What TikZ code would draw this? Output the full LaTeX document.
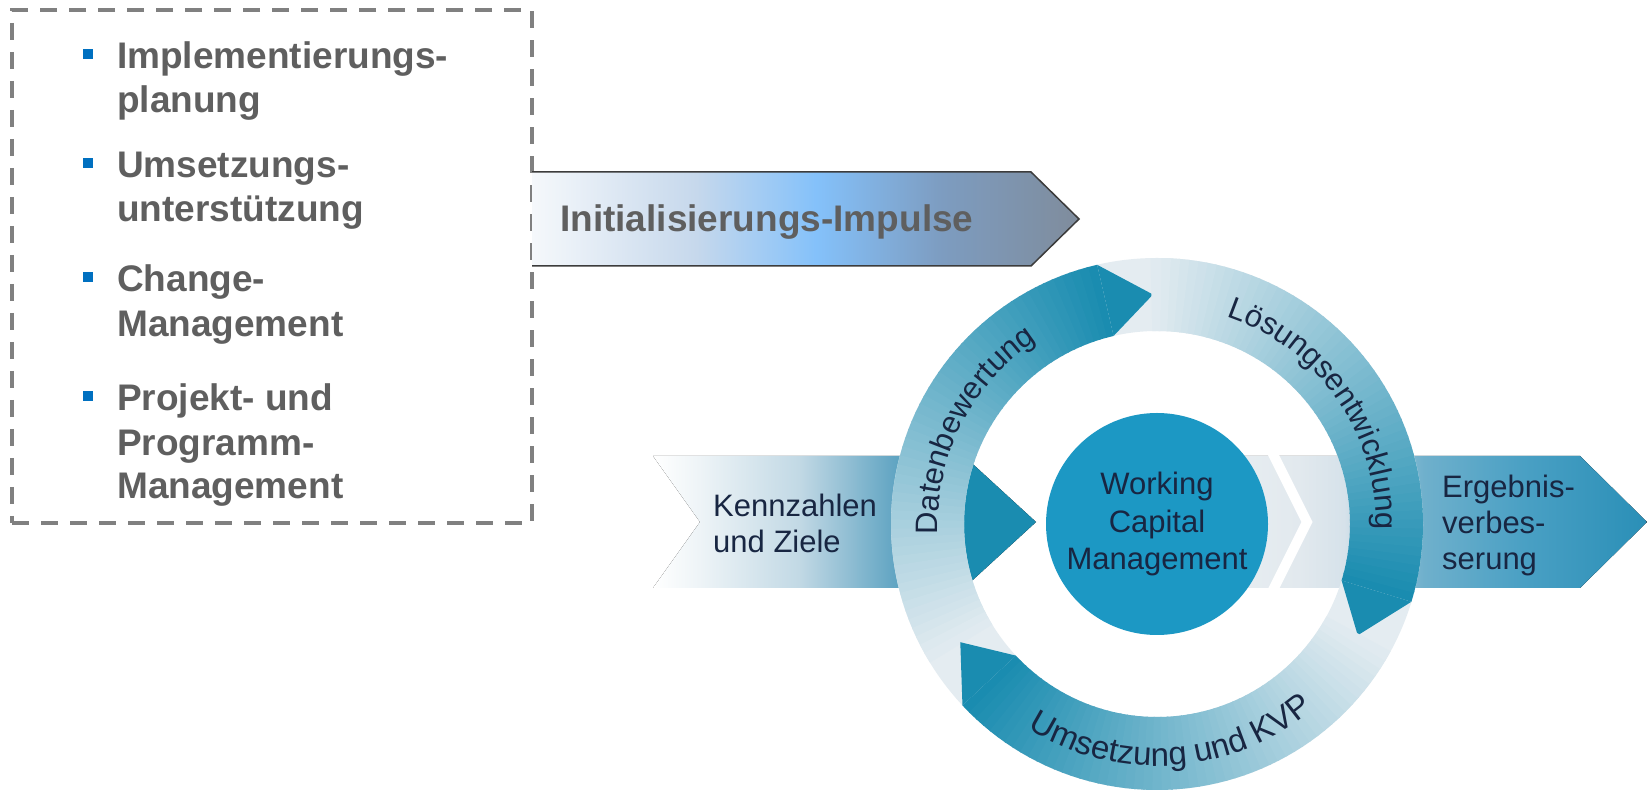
\documentclass[tikz,border=0pt]{standalone}
\usepackage{fontspec}
\setmainfont{Liberation Sans}
\usetikzlibrary{decorations.text}
\definecolor{boxgray}{RGB}{128,128,128}
\definecolor{bultext}{RGB}{95,95,95}
\definecolor{bulblue}{RGB}{0,112,192}
\definecolor{tealdk}{RGB}{26,140,176}
\definecolor{pale}{RGB}{228,236,241}
\definecolor{circ}{RGB}{28,152,196}
\definecolor{navy}{RGB}{24,38,66}
\definecolor{outl}{RGB}{60,60,60}
\definecolor{iA}{RGB}{245,248,251}
\definecolor{iB}{RGB}{198,216,236}
\definecolor{iC}{RGB}{132,193,250}
\definecolor{iD}{RGB}{125,156,192}
\definecolor{iE}{RGB}{127,140,156}
\definecolor{kA}{RGB}{238,244,247}
\definecolor{kB}{RGB}{194,217,229}
\definecolor{kC}{RGB}{102,167,196}
\definecolor{eA}{RGB}{238,243,246}
\definecolor{eB}{RGB}{226,233,238}
\definecolor{eC}{RGB}{214,226,234}
\definecolor{eD}{RGB}{111,176,204}
\definecolor{eE}{RGB}{74,160,196}
\definecolor{eF}{RGB}{42,143,183}
\pgfdeclarehorizontalshading{initshade}{100bp}{color(0bp)=(iA); color(25bp)=(iA); color(40bp)=(iB); color(51bp)=(iC); color(62.5bp)=(iD); color(75bp)=(iE); color(100bp)=(iE)}
\pgfdeclarehorizontalshading{kshade}{100bp}{color(0bp)=(white); color(25bp)=(white); color(31bp)=(kA); color(44bp)=(kB); color(56bp)=(kC); color(65.5bp)=(tealdk); color(100bp)=(tealdk)}
\pgfdeclarehorizontalshading{eshade}{100bp}{color(0bp)=(eA); color(25bp)=(eA); color(40bp)=(eB); color(44.5bp)=(eC); color(52.5bp)=(eD); color(62.5bp)=(eE); color(75bp)=(eF); color(100bp)=(eF)}
\newcommand\ringfnt{\fontsize{31}{36}\selectfont}
\newcommand\ringfntb{\fontsize{33}{38}\selectfont}
\tikzset{
  bultxt/.style={anchor=base west, inner sep=0, text=bultext, font=\bfseries\fontsize{37}{44}\selectfont},
  bulsq/.style={fill=bulblue, minimum width=10.5, minimum height=10.5, inner sep=0},
  lbl/.style={anchor=base west, inner sep=0, text=navy, font=\fontsize{31}{37}\selectfont},
  ringtxt/.style={decorate, decoration={text along path, text align=center, text color=navy, text={#1}}}
}
\begin{document}
\begin{tikzpicture}[x=1pt,y=1pt]
\useasboundingbox (0,0) rectangle (1647,792);
\fill[white] (0,0) rectangle (1647,792);
% dashed box
\node[draw=boxgray, line width=3.5, dash pattern=on 17 off 12, minimum width=520, minimum height=513, inner sep=0] (box) at (272,525.5) {};
% bullets
\node[bulsq] (s1) at (88,738) {};
\node[bulsq] (s2) at (88,629) {};
\node[bulsq] (s3) at (88,515) {};
\node[bulsq] (s4) at (88,396) {};
\node[bultxt] (t1a) at (117,723) {Implementierungs-};
\node[bultxt] (t1b) at (117,679) {planung};
\node[bultxt] (t2a) at (117,614) {Umsetzungs-};
\node[bultxt] (t2b) at (117,570) {unterstützung};
\node[bultxt] (t3a) at (117,500) {Change-};
\node[bultxt] (t3b) at (117,455) {Management};
\node[bultxt] (t4a) at (117,381) {Projekt- und};
\node[bultxt] (t4b) at (117,336) {Programm-};
\node[bultxt] (t4c) at (117,293) {Management};
% Initialisierungs arrow
\fill[shading=initshade] (532,620) -- (1031,620) -- (1079,573) -- (1031,526) -- (532,526) -- cycle;
\draw[outl, line width=1.5, line join=miter] (532,620) -- (1031,620) -- (1079,573) -- (1031,526) -- (532,526);
\node[bultxt] (init) at (560,560) {Initialisierungs-Impulse};
% Kennzahlen band
\fill[shading=kshade] (653,336) -- (964,336) -- (1036,270) -- (964,204) -- (653,204) -- (700,270) -- cycle;
% Ergebnis band
\fill[shading=eshade] (1150,336) -- (1580,336) -- (1647,270) -- (1580,204) -- (1150,204) -- cycle;
\draw[white, line width=10, line join=miter] (1272,340) -- (1307,270) -- (1272,200);
% ring
\begin{scope}[shift={(1157,268)}]
  \fill[pale, even odd rule] (0,0) circle[radius=266] (0,0) circle[radius=193];
  \foreach \h in {103,-17,223} {
    \foreach \i in {0,...,53} {
      \pgfmathsetmacro\aa{\h+2*\i}
      \pgfmathsetmacro\bb{\aa+2.4}
      \pgfmathsetmacro\mm{100-100*\i/54}
      \fill[tealdk!\mm!pale] (\aa:266) arc[start angle=\aa, end angle=\bb, radius=266] -- (\bb:193) arc[start angle=\bb, end angle=\aa, radius=193] -- cycle;
    }
    \fill[tealdk] (\h:266) -- (\h-12:229.5) -- (\h:193) -- cycle;
  }
  \path[ringtxt={|\ringfnt|Datenbewertung}] (198:219) arc[start angle=198, end angle=108, radius=219];
  \path[ringtxt={|\ringfnt|Lösungsentwicklung}] (85:219) arc[start angle=85, end angle=-15, radius=219];
  \path[ringtxt={|\ringfntb|Umsetzung und KVP}] (224:242) arc[start angle=224, end angle=324, radius=242];
\end{scope}
% centre
\node[circle, fill=circ, minimum size=222, inner sep=0, text=navy, align=center, font=\fontsize{31}{37.5}\selectfont] (wcm) at (1157,268) {Working\\Capital\\Management};
% labels
\node[lbl] (k1) at (713,275) {Kennzahlen};
\node[lbl] (k2) at (713,239) {und Ziele};
\node[lbl] (e1) at (1442,294) {Ergebnis-};
\node[lbl] (e2) at (1442,258) {verbes-};
\node[lbl] (e3) at (1442,222) {serung};
\end{tikzpicture}
\end{document}
